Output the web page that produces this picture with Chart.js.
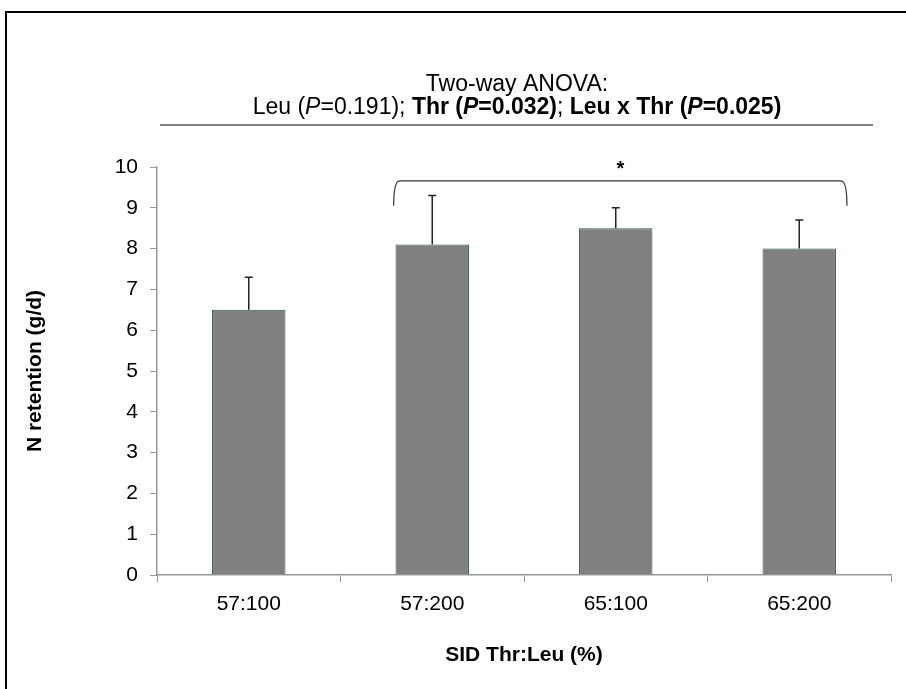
<!DOCTYPE html>
<html>
<head>
<meta charset="utf-8">
<script src="https://cdn.jsdelivr.net/npm/chart.js@4"></script>
<style>
  html, body { margin: 0; padding: 0; background: #fff; overflow: hidden; }
  #wrap { position: relative; width: 906px; height: 689px; }
  #frame { position: absolute; left: 5px; top: 11px; width: 920px; height: 700px; border-left: 2px solid #000; border-top: 2px solid #000; }
  canvas { position: absolute; left: 0; top: 0; }
</style>
</head>
<body>
<div id="wrap">
  <div id="frame"></div>
  <canvas id="chart" width="906" height="689"></canvas>
</div>
<script>
const categories = ['57:100', '57:200', '65:100', '65:200'];
const retention = [6.5, 8.1, 8.5, 8.0];
const errorTop = [7.3, 9.3, 9.0, 8.7];
const yTicks = [0, 1, 2, 3, 4, 5, 6, 7, 8, 9, 10];

const FONT = '"Liberation Sans", Arial, sans-serif';

// title, rule line, bracket and error bars
const extras = {
    id: 'extras',
    afterDatasetsDraw(chart) {
        const ctx = chart.ctx;
        const x = chart.scales.x;
        const y = chart.scales.y;
        const meta = chart.getDatasetMeta(0);

        ctx.save();
        ctx.strokeStyle = '#222';
        ctx.lineWidth = 1.5;
        meta.data.forEach((bar, i) => {
            const top = y.getPixelForValue(errorTop[i]);
            ctx.beginPath();
            ctx.moveTo(bar.x, bar.y);
            ctx.lineTo(bar.x, top);
            ctx.moveTo(bar.x - 4, top);
            ctx.lineTo(bar.x + 4, top);
            ctx.stroke();
        });

        // bracket over 57:200 .. 65:200
        const bx1 = x.getPixelForValue(0.79);
        const bx2 = x.getPixelForValue(3.26);
        const by = y.getPixelForValue(9.66);
        const byEnd = y.getPixelForValue(9.05);
        ctx.strokeStyle = '#333';
        ctx.lineWidth = 1.2;
        ctx.beginPath();
        ctx.moveTo(bx1, byEnd);
        ctx.quadraticCurveTo(bx1, by, bx1 + 6, by);
        ctx.lineTo(bx2 - 6, by);
        ctx.quadraticCurveTo(bx2, by, bx2, byEnd);
        ctx.stroke();
        ctx.fillStyle = '#000';
        ctx.font = 'bold 20px ' + FONT;
        ctx.textAlign = 'center';
        ctx.textBaseline = 'middle';
        ctx.fillText('*', (bx1 + bx2) / 2, by - 11);
        ctx.restore();
    },
    afterDraw(chart) {
        const ctx = chart.ctx;
        const cx = 517;
        const size = '23px ';
        ctx.save();
        ctx.fillStyle = '#000';
        ctx.textBaseline = 'middle';
        ctx.textAlign = 'center';
        ctx.font = size + FONT;
        ctx.fillText('Two-way ANOVA:', cx, 85);

        const parts = [
            ['Leu (', ''], ['P', 'italic '], ['=0.191); ', ''],
            ['Thr (', 'bold '], ['P', 'italic bold '], ['=0.032)', 'bold '], ['; ', ''],
            ['Leu x Thr (', 'bold '], ['P', 'italic bold '], ['=0.025)', 'bold ']
        ];
        let total = 0;
        parts.forEach(p => { ctx.font = p[1] + size + FONT; total += ctx.measureText(p[0]).width; });
        let px = cx - total / 2;
        ctx.textAlign = 'left';
        parts.forEach(p => {
            ctx.font = p[1] + size + FONT;
            ctx.fillText(p[0], px, 108);
            px += ctx.measureText(p[0]).width;
        });

        ctx.strokeStyle = '#555';
        ctx.lineWidth = 1.5;
        ctx.beginPath();
        ctx.moveTo(160, 125);
        ctx.lineTo(873, 125);
        ctx.stroke();
        ctx.restore();
    }
};

new Chart(document.getElementById('chart'), {
    type: 'bar',
    data: {
        labels: categories,
        datasets: [{
            data: retention,
            backgroundColor: '#808080',
            borderColor: '#2e5a4c',
            borderWidth: 1,
            borderSkipped: 'bottom',
            categoryPercentage: 1,
            barPercentage: 0.4
        }]
    },
    options: {
        responsive: false,
        animation: false,
        devicePixelRatio: 1,
        layout: { padding: { top: 167, right: 15, left: 0, bottom: 0 } },
        plugins: { legend: { display: false }, tooltip: { enabled: false } },
        scales: {
            x: {
                grid: { drawOnChartArea: false, tickLength: 7, color: '#999', offset: true },
                border: { color: '#999', width: 1.5 },
                ticks: { color: '#000', font: { family: FONT, size: 21 }, padding: 10 },
                title: { display: true, text: 'SID Thr:Leu (%)', color: '#000', font: { family: FONT, size: 21, weight: 'bold' }, padding: { top: 0, bottom: 21 } },
                afterFit(scale) { scale.height = 114; }
            },
            y: {
                min: 0,
                max: 10,
                afterBuildTicks(scale) { scale.ticks = yTicks.map(v => ({ value: v })); },
                grid: { drawOnChartArea: false, tickLength: 7, color: '#999' },
                border: { color: '#999', width: 1.5 },
                ticks: { color: '#000', font: { family: FONT, size: 21 }, padding: 12 },
                title: { display: true, text: 'N retention (g/d)', color: '#000', font: { family: FONT, size: 21, weight: 'bold' }, padding: { top: 23, bottom: 0 } },
                afterFit(scale) { scale.width = 157; }
            }
        }
    },
    plugins: [extras]
});
</script>
</body>
</html>
